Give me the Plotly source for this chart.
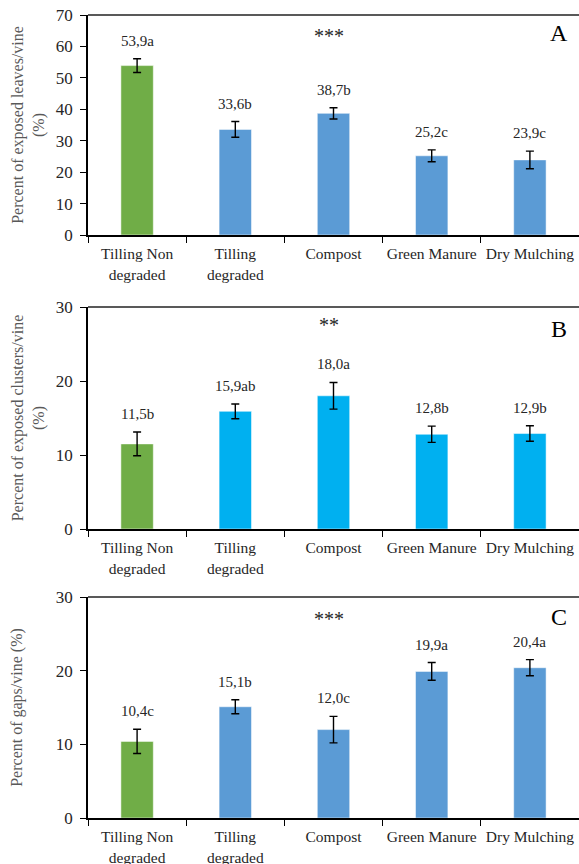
import plotly.graph_objects as go

categories = ["Tilling Non<br>degraded", "Tilling<br>degraded", "Compost", "Green Manure", "Dry Mulching"]

leaves_vals = [53.9, 33.6, 38.7, 25.2, 23.9]
leaves_err = [2.2, 2.5, 1.8, 1.9, 2.8]
leaves_labels = ["53,9a", "33,6b", "38,7b", "25,2c", "23,9c"]

clusters_vals = [11.5, 15.9, 18.0, 12.8, 12.9]
clusters_err = [1.6, 1.0, 1.8, 1.1, 1.05]
clusters_labels = ["11,5b", "15,9ab", "18,0a", "12,8b", "12,9b"]

gaps_vals = [10.4, 15.1, 12.0, 19.9, 20.4]
gaps_err = [1.65, 0.95, 1.8, 1.2, 1.1]
gaps_labels = ["10,4c", "15,1b", "12,0c", "19,9a", "20,4a"]

GREEN = "#70AD47"
BLUE = "#5B9BD5"
CYAN = "#00B0F0"
FONT = "Liberation Serif"

panels = [
    dict(vals=leaves_vals, err=leaves_err, labels=leaves_labels, color=BLUE, ymax=70, dtick=10,
         title="Percent of exposed leaves/vine<br>(%)", standoff=7, stars="***", letter="A",
         stars_y=0.905, letter_y=0.918,
         dom=(1 - 235 / 864, 1 - 15 / 864)),
    dict(vals=clusters_vals, err=clusters_err, labels=clusters_labels, color=CYAN, ymax=30, dtick=10,
         title="Percent of exposed clusters/vine<br>(%)", standoff=7, stars="**", letter="B",
         stars_y=0.92, letter_y=0.90,
         dom=(1 - 529 / 864, 1 - 307 / 864)),
    dict(vals=gaps_vals, err=gaps_err, labels=gaps_labels, color=BLUE, ymax=30, dtick=10,
         title="Percent of gaps/vine (%)", standoff=29, stars="***", letter="C",
         stars_y=0.90, letter_y=0.91,
         dom=(1 - 818 / 864, 1 - 597 / 864)),
]

fig = go.Figure()
annotations = []
shapes = []
for i, p in enumerate(panels):
    n = i + 1
    xa = "x" if n == 1 else f"x{n}"
    ya = "y" if n == 1 else f"y{n}"
    colors = [GREEN] + [p["color"]] * (len(categories) - 1)
    fig.add_trace(go.Bar(
        x=categories, y=p["vals"], xaxis=xa, yaxis=ya,
        marker=dict(color=colors, line=dict(color="rgba(255,255,255,0.5)", width=1)),
        width=0.33,
        error_y=dict(type="data", array=p["err"], visible=True, color="#000000", thickness=1.4, width=4),
        showlegend=False, hoverinfo="skip",
    ))
    for c, v, e, lab in zip(categories, p["vals"], p["err"], p["labels"]):
        annotations.append(dict(x=c, y=v + e, xref=xa, yref=ya, text=lab, showarrow=False,
                                yshift=18, yanchor="middle",
                                font=dict(family=FONT, size=15, color="#262626")))
    annotations.append(dict(x=0.49, y=p["stars_y"], xref=f"{xa} domain", yref=f"{ya} domain",
                            text=p["stars"], showarrow=False, yanchor="middle", xanchor="center",
                            font=dict(family=FONT, size=20, color="#262626")))
    annotations.append(dict(x=0.959, y=p["letter_y"], xref=f"{xa} domain", yref=f"{ya} domain",
                            text=p["letter"], showarrow=False, yanchor="middle", xanchor="center",
                            font=dict(family=FONT, size=24, color="#000000")))
    shapes.append(dict(type="line", xref=f"{xa} domain", yref=f"{ya} domain", x0=0, x1=1, y0=1, y1=1,
                       line=dict(color="#595959", width=2)))
    axis_common = dict(showgrid=False, zeroline=False, showline=True, linecolor="#000000", linewidth=1.5,
                       ticks="outside", ticklen=6, tickcolor="#000000", tickwidth=1.3, automargin=False)
    fig.update_layout(**{
        ("xaxis" if n == 1 else f"xaxis{n}"): dict(
            domain=[88 / 579, 1.0], anchor=ya, type="category", tickson="boundaries", tickangle=0,
            ticklabelstandoff=4,
            tickfont=dict(family=FONT, size=15.5, color="#262626"), **axis_common),
        ("yaxis" if n == 1 else f"yaxis{n}"): dict(
            domain=list(p["dom"]), anchor=xa, range=[0, p["ymax"]], dtick=p["dtick"],
            tickfont=dict(family=FONT, size=17, color="#262626"), ticklabelstandoff=4,
            title=dict(text=p["title"], font=dict(family=FONT, size=16, color="#595959"),
                       standoff=p["standoff"]),
            **axis_common),
    })

fig.update_layout(
    width=579, height=864,
    margin=dict(l=0, r=0, t=0, b=0, autoexpand=False),
    paper_bgcolor="white", plot_bgcolor="white",
    annotations=annotations, shapes=shapes,
    bargap=0.67,
)
fig.write_html("out.html", config={"displayModeBar": False},
               post_script="document.body.style.margin='0';document.body.style.overflow='hidden';")
